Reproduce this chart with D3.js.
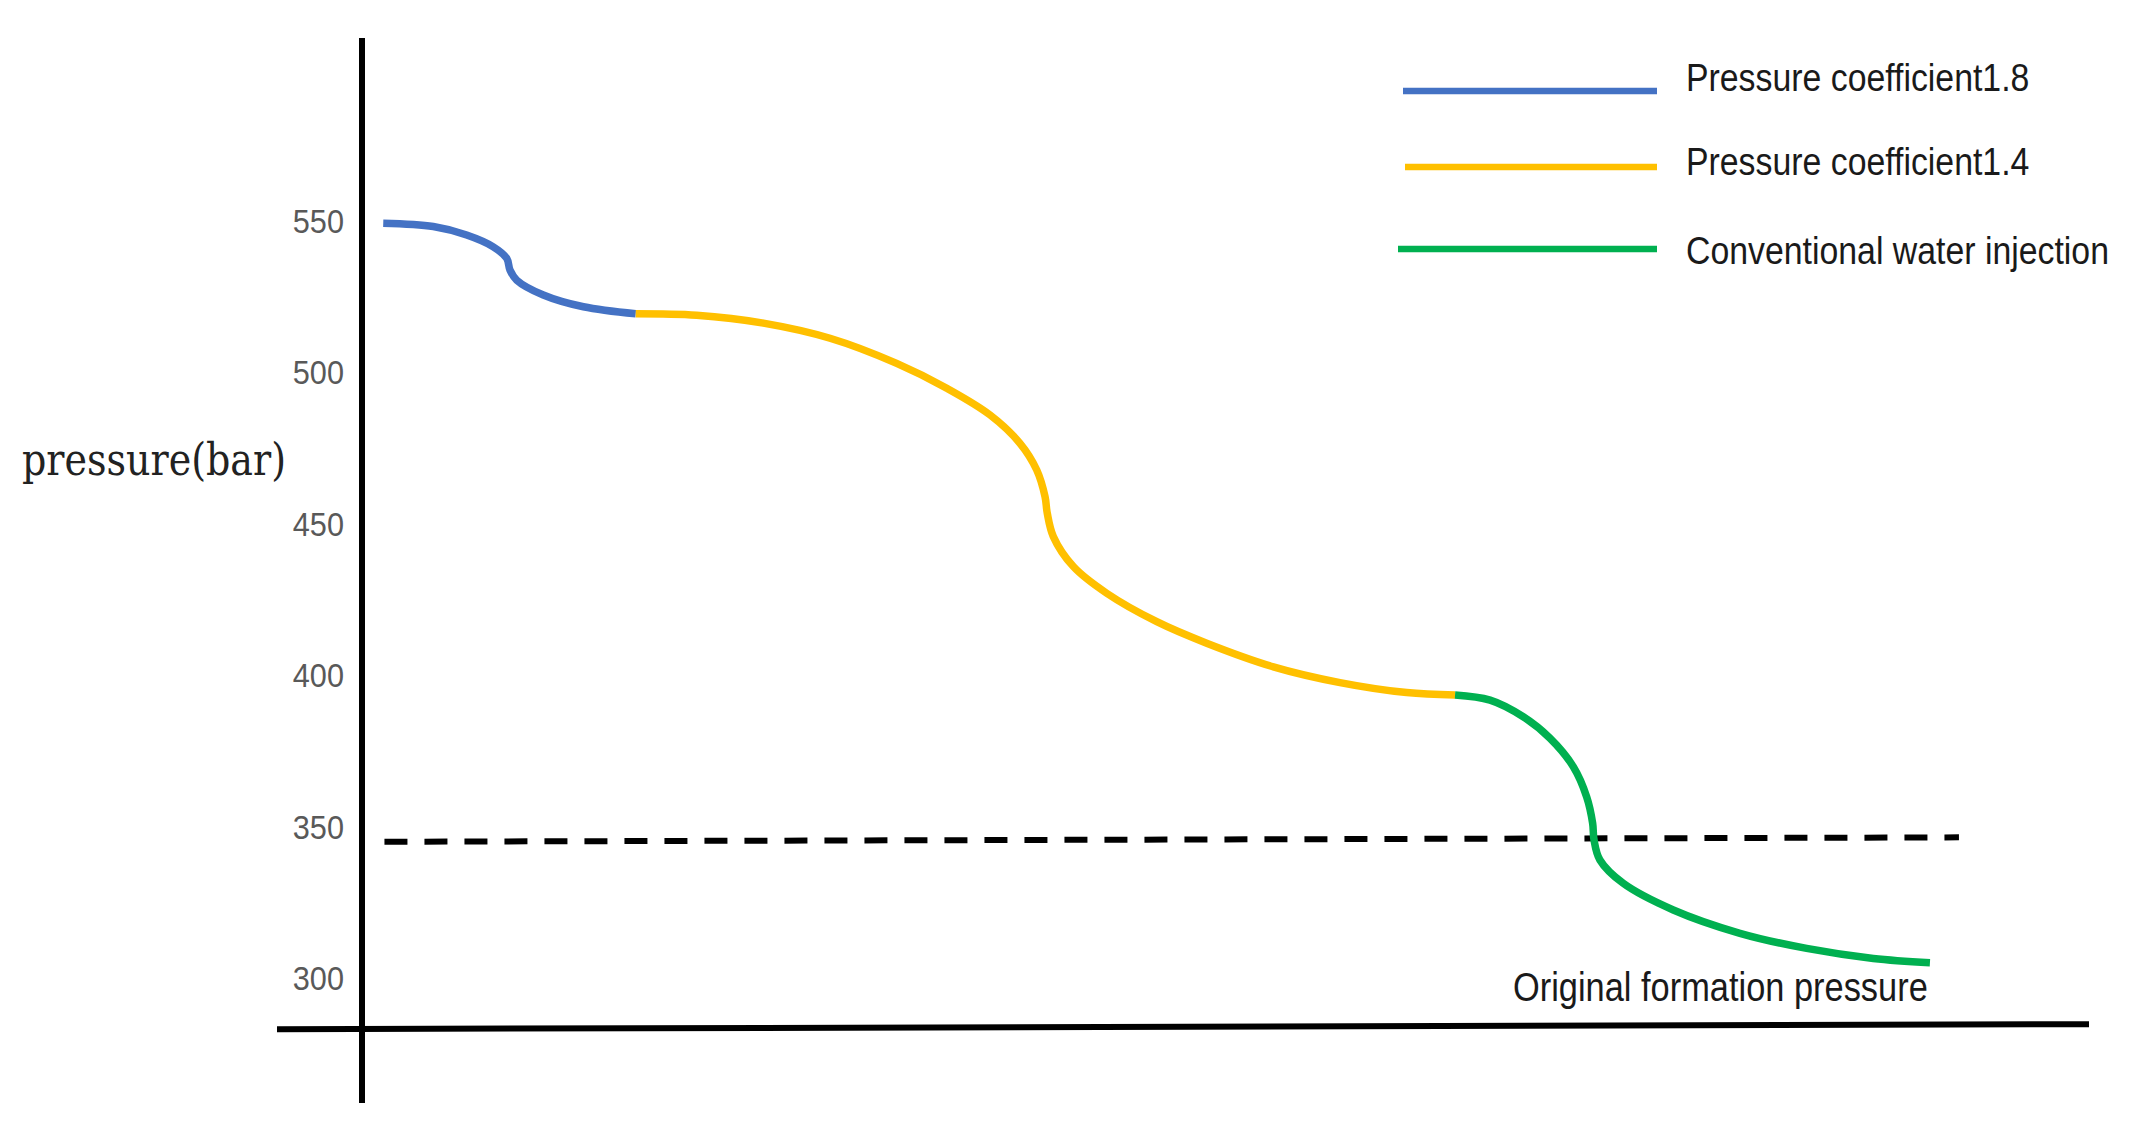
<!DOCTYPE html>
<html>
<head>
<meta charset="utf-8">
<script src="https://cdn.jsdelivr.net/npm/d3@7/dist/d3.min.js"></script>
<style>
  body { margin: 0; background: #fff; }
  svg { display: block; }
</style>
</head>
<body>
<div id="chart"></div>
<script>
var W = 2141, H = 1129;

// x is an unlabeled time axis: 0 = pressure axis, 100 = end of the time axis
var blueT = [1.23, 4.13, 6.06, 7.60, 8.38, 8.57, 8.96, 10.50, 12.82, 15.85];
var blueP = [549.6, 548.5, 545.7, 541.8, 538.0, 534.1, 530.8, 525.9, 522.0, 519.7];

var yellowT = [15.85, 19.38, 23.24, 27.10, 30.96, 33.86, 36.36, 38.10, 39.07, 39.55, 39.68, 40.03, 41.19, 43.12, 46.02, 48.91, 52.77, 56.63, 60.49, 63.29];
var yellowP = [519.7, 519.2, 516.6, 511.6, 503.3, 495.1, 486.3, 476.9, 468.1, 459.3, 453.8, 446.1, 436.2, 427.4, 418.0, 410.9, 403.1, 397.9, 394.6, 393.8];

var greenT = [63.29, 65.32, 67.24, 68.79, 70.14, 70.91, 71.26, 71.34, 71.68, 73.03, 75.93, 79.79, 83.65, 87.51, 90.79];
var greenP = [393.8, 392.1, 386.6, 379.5, 370.1, 360.2, 351.4, 345.9, 339.3, 331.6, 322.8, 315.1, 310.1, 306.8, 305.4];

var formationPressure = 345.3;
var formationSpan = [1.33, 92.5];

var yTicks = [300, 350, 400, 450, 500, 550];
var seriesNames = ["Pressure coefficient1.8", "Pressure coefficient1.4", "Conventional water injection"];
var seriesColors = ["#4472C4", "#FFC000", "#00B050"];
var yTitle = "pressure(bar)";
var formationLabel = "Original formation pressure";

var series = [
  {name: seriesNames[0], color: seriesColors[0], t: blueT, p: blueP},
  {name: seriesNames[1], color: seriesColors[1], t: yellowT, p: yellowP},
  {name: seriesNames[2], color: seriesColors[2], t: greenT, p: greenP}
];

var sans = "'Liberation Sans', Arial, sans-serif";

var svg = d3.select("#chart").append("svg")
    .attr("width", W)
    .attr("height", H);

var x = d3.scaleLinear().domain([0, 100]).range([362, 2089]);
var y = d3.scaleLinear().domain([300, 550]).range([979, 222]);

// squeeze text horizontally (the original uses a narrow face)
function squeeze(sel, k) {
  sel.each(function() {
    var t = d3.select(this);
    var x0 = +t.attr("x") || 0;
    t.attr("x", x0 / k).attr("transform", "scale(" + k + ",1)");
  });
}

// y axis line
svg.append("line")
    .attr("x1", x(0)).attr("x2", x(0))
    .attr("y1", 38).attr("y2", 1103)
    .attr("stroke", "#000")
    .attr("stroke-width", 6);

// x axis + dashed line, the scan is tilted a tiny bit
var tilt = svg.append("g")
    .attr("transform", "rotate(-0.16," + x(0) + ",1029)");

tilt.append("line")
    .attr("x1", 277).attr("x2", x(100))
    .attr("y1", 1029).attr("y2", 1029)
    .attr("stroke", "#000")
    .attr("stroke-width", 6);

tilt.append("line")
    .attr("x1", x(formationSpan[0])).attr("x2", x(formationSpan[1]))
    .attr("y1", y(formationPressure)).attr("y2", y(formationPressure))
    .attr("stroke", "#000")
    .attr("stroke-width", 6)
    .attr("stroke-dasharray", "23,17");

// tick labels only
var yAxis = svg.append("g")
    .attr("transform", "translate(" + x(0) + ",0)")
    .call(d3.axisLeft(y).tickValues(yTicks).tickSize(0).tickPadding(18));
yAxis.select(".domain").remove();
yAxis.selectAll("text")
    .attr("fill", "#595959")
    .style("font-family", sans)
    .style("font-size", "33px");
squeeze(yAxis.selectAll("text"), 0.93);

// y title
svg.append("text")
    .attr("x", 22)
    .attr("y", 475)
    .attr("textLength", 264)
    .attr("lengthAdjust", "spacingAndGlyphs")
    .style("font-family", "'DejaVu Serif', serif")
    .style("font-size", "45px")
    .attr("fill", "#222")
    .text(yTitle);

// curves
var line = d3.line()
    .x(function(d) { return x(d[0]); })
    .y(function(d) { return y(d[1]); })
    .curve(d3.curveCatmullRom.alpha(0.5));

svg.selectAll("path.curve")
  .data(series)
  .enter().append("path")
    .attr("class", "curve")
    .attr("fill", "none")
    .attr("stroke", function(d) { return d.color; })
    .attr("stroke-width", 7.5)
    .attr("d", function(d) { return line(d3.zip(d.t, d.p)); });

// formation pressure label
var fl = svg.append("text")
    .attr("x", 1513)
    .attr("y", 1001)
    .attr("fill", "#1a1a1a")
    .style("font-family", sans)
    .style("font-size", "40px")
    .text(formationLabel);
squeeze(fl, 0.86);

// legend
var legendLayout = [
  {x1: 1403, lineY: 91, textY: 91},
  {x1: 1405, lineY: 167, textY: 175},
  {x1: 1398, lineY: 249, textY: 264}
];

var lg = svg.selectAll("g.legend")
  .data(series)
  .enter().append("g")
    .attr("class", "legend");

lg.append("line")
    .attr("x1", function(d, i) { return legendLayout[i].x1; })
    .attr("x2", 1657)
    .attr("y1", function(d, i) { return legendLayout[i].lineY; })
    .attr("y2", function(d, i) { return legendLayout[i].lineY; })
    .attr("stroke", function(d) { return d.color; })
    .attr("stroke-width", 6.5);

var lt = lg.append("text")
    .attr("x", 1686)
    .attr("y", function(d, i) { return legendLayout[i].textY; })
    .attr("fill", "#1a1a1a")
    .style("font-family", sans)
    .style("font-size", "38px")
    .text(function(d) { return d.name; });
squeeze(lt, 0.89);
</script>
</body>
</html>
